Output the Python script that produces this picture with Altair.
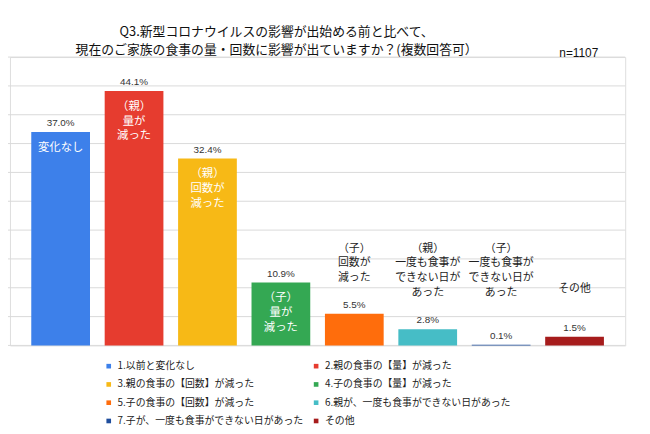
import altair as alt
import pandas as pd

categories = [
    "1.以前と変化なし",
    "2.親の食事の【量】が減った",
    "3.親の食事の【回数】が減った",
    "4.子の食事の【量】が減った",
    "5.子の食事の【回数】が減った",
    "6.親が、一度も食事ができない日があった",
    "7.子が、一度も食事ができない日があった",
    "その他",
]
values = [37.0, 44.1, 32.4, 10.9, 5.5, 2.8, 0.1, 1.5]
colors = ["#3d80ea", "#e63c2f", "#f7b916", "#34a853", "#ff6d0c", "#46bdc6", "#1f4e9d", "#a61c1c"]
inner_labels = ["変化なし", "（親）\n量が\n減った", "（親）\n回数が\n減った", "（子）\n量が\n減った", "", "", "", ""]
outer_labels = ["", "", "", "", "（子）\n回数が\n減った", "（親）\n一度も食事が\nできない日が\nあった",
                "（子）\n一度も食事が\nできない日が\nあった", "その他"]
grid_values = [0, 5, 10, 15, 20, 25, 30, 35, 40, 45, 50]
title_line1 = "Q3.新型コロナウイルスの影響が出始める前と比べて、"
title_line2 = "現在のご家族の食事の量・回数に影響が出ていますか？(複数回答可）"
n_label = "n=1107"

df = pd.DataFrame({
    "cat": categories,
    "value": values,
    "pct": [f"{v:.1f}%" for v in values],
    "inner": inner_labels,
    "outer": outer_labels,
})

# legend is filled column by column: order entries so rows read 1|2, 3|4, ...
legend_idx = [0, 2, 4, 6, 1, 3, 5, 7]
legend_domain = [categories[i] for i in legend_idx]
legend_range = [colors[i] for i in legend_idx]

JP = "Noto Sans CJK JP"

x_enc = alt.X("cat:N", sort=categories,
              scale=alt.Scale(paddingInner=0.2, paddingOuter=0.29), axis=None)
y_scale = alt.Scale(domain=[0, 50], nice=False)

grid = alt.Chart(pd.DataFrame({"g": grid_values})).mark_rule(color="#d9d9d9", strokeWidth=1).encode(
    y=alt.Y("g:Q", scale=y_scale, axis=None),
    x=alt.value(-2), x2=alt.value(623),
)

base = alt.Chart(df)

bars = base.mark_bar().encode(
    x=x_enc,
    y=alt.Y("value:Q", scale=y_scale, axis=None),
    color=alt.Color("cat:N",
                    scale=alt.Scale(domain=legend_domain, range=legend_range),
                    legend=alt.Legend(title=None, orient="none", legendX=95, legendY=308,
                                      columns=2, symbolType="square", symbolSize=22,
                                      symbolStrokeWidth=0, labelFontSize=10, labelFont=JP,
                                      labelColor="#222", rowPadding=8.5, columnPadding=7,
                                      labelLimit=0, labelOffset=4, padding=0)),
)

pct = base.mark_text(baseline="bottom", dy=-4, fontSize=10, font="Liberation Sans", color="#333").encode(
    x=alt.X("cat:N", sort=categories), y="value:Q", text="pct:N")

inner = base.transform_filter(alt.datum.inner != "").mark_text(
    baseline="top", dy=10, fontSize=11.5, font=JP, color="white", lineHeight=15, lineBreak="\n"
).encode(x=alt.X("cat:N", sort=categories), y="value:Q", text="inner:N")

outer_multi = base.transform_filter(
    alt.FieldOneOfPredicate(field="cat", oneOf=categories[4:7])
).mark_text(baseline="top", fontSize=11, font=JP, color="#222", lineHeight=15, lineBreak="\n").encode(
    x=alt.X("cat:N", sort=categories), y=alt.value(188), text="outer:N")

outer_other = base.transform_filter(alt.datum.cat == categories[7]).mark_text(
    baseline="middle", fontSize=11, font=JP, color="#222"
).encode(x=alt.X("cat:N", sort=categories), y=alt.value(235), text="outer:N")

title1 = alt.Chart(pd.DataFrame({"t": [title_line1]})).mark_text(
    baseline="middle", fontSize=13, font=JP, color="#111", align="center"
).encode(x=alt.value(270), y=alt.value(-25), text="t:N")

title2 = alt.Chart(pd.DataFrame({"t": [title_line2]})).mark_text(
    baseline="middle", fontSize=13, font=JP, color="#111", align="center"
).encode(x=alt.value(270), y=alt.value(-7), text="t:N")

nlab = alt.Chart(pd.DataFrame({"t": [n_label]})).mark_text(
    baseline="middle", fontSize=12, font="Liberation Sans", color="#111", align="center"
).encode(x=alt.value(576), y=alt.value(-4), text="t:N")

chart = alt.layer(grid, bars, pct, inner, outer_multi, outer_other, title1, title2, nlab).properties(
    width=623, height=292,
    autosize=alt.AutoSizeParams(type="none"),
    padding={"left": 2, "top": 47, "right": 17, "bottom": 87},
).configure_view(stroke=None).configure(background="white")

chart.save("out.html", embed_options={"renderer": "svg", "actions": False})
